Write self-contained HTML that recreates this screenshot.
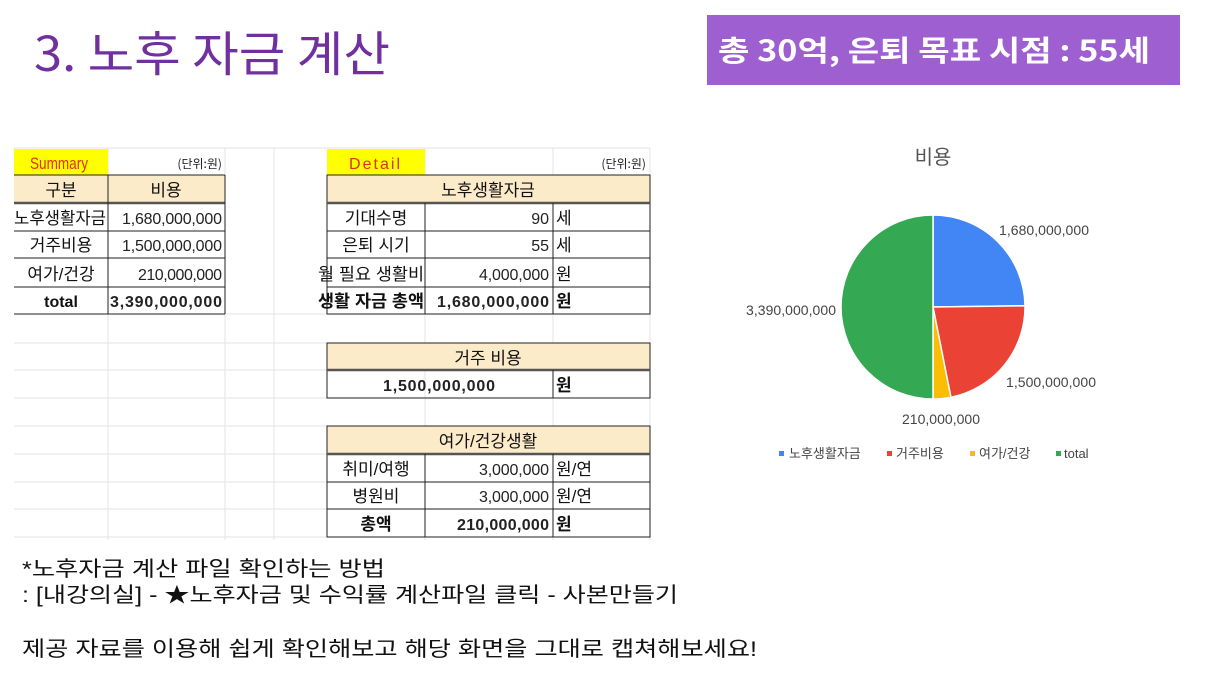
<!DOCTYPE html>
<html><head><meta charset="utf-8"><style>
html,body{margin:0;padding:0;background:#fff;}
svg{display:block;}
text{font-family:"Liberation Sans","Noto Sans CJK KR",sans-serif;}
.k{font-family:"Noto Sans CJK KR","Liberation Sans",sans-serif;}
</style></head><body>
<svg width="1216" height="684" viewBox="0 0 1216 684" xmlns="http://www.w3.org/2000/svg">
<rect width="1216" height="684" fill="#fff"/>
<text x="34" y="71" class="k" font-size="48" fill="#7030a0" textLength="356" lengthAdjust="spacingAndGlyphs">3. 노후 자금 계산</text>
<rect x="707" y="15" width="473" height="70" fill="#9e5fd0"/>
<text x="718" y="61" class="k" font-size="29" font-weight="bold" fill="#fff" textLength="432" lengthAdjust="spacingAndGlyphs">총 30억, 은퇴 목표 시점  : 55세</text>

<g stroke="#e3e3e3" stroke-width="1">
<line x1="14" y1="148" x2="650" y2="148"/>
<line x1="14" y1="314" x2="650" y2="314"/>
<line x1="14" y1="343" x2="650" y2="343"/>
<line x1="14" y1="370" x2="650" y2="370"/>
<line x1="14" y1="398" x2="650" y2="398"/>
<line x1="14" y1="426" x2="650" y2="426"/>
<line x1="14" y1="454" x2="650" y2="454"/>
<line x1="14" y1="482" x2="650" y2="482"/>
<line x1="14" y1="509" x2="650" y2="509"/>
<line x1="14" y1="537" x2="650" y2="537"/>
<line x1="108" y1="148" x2="108" y2="540"/>
<line x1="225" y1="148" x2="225" y2="540"/>
<line x1="274" y1="148" x2="274" y2="540"/>
<line x1="425" y1="148" x2="425" y2="540"/>
<line x1="553" y1="148" x2="553" y2="540"/>
<line x1="650" y1="148" x2="650" y2="540"/>
</g>
<rect x="14" y="149" width="94" height="26" fill="#ffff00"/>
<rect x="327" y="149" width="98" height="26" fill="#ffff00"/>
<text x="30" y="169" font-size="17" fill="#e03010" textLength="58" lengthAdjust="spacingAndGlyphs">Summary</text>
<text x="349" y="169" font-size="16" fill="#e03010" textLength="51" lengthAdjust="spacing">Detail</text>
<text x="222" y="168" class="k" font-size="12" text-anchor="end" fill="#222">(단위:원)</text>
<text x="646" y="168" class="k" font-size="12" text-anchor="end" fill="#222">(단위:원)</text>

<g fill="#fcebc9">
<rect x="14" y="175" width="211" height="28"/>
<rect x="327" y="175" width="323" height="28"/>
<rect x="327" y="343" width="323" height="27"/>
<rect x="327" y="426" width="323" height="28"/>
</g>
<g stroke="#222" stroke-width="1" fill="none">
<line x1="14" y1="175" x2="225" y2="175"/>
<line x1="14" y1="203" x2="225" y2="203" stroke="#555" stroke-width="2.5"/>
<line x1="14" y1="231" x2="225" y2="231"/>
<line x1="14" y1="258" x2="225" y2="258"/>
<line x1="14" y1="287" x2="225" y2="287"/>
<line x1="14" y1="314" x2="225" y2="314"/>
<line x1="108" y1="175" x2="108" y2="314"/>
<line x1="225" y1="175" x2="225" y2="314"/>
<rect x="327" y="175" width="323" height="139"/>
<line x1="327" y1="203" x2="650" y2="203" stroke="#555" stroke-width="2.5"/>
<line x1="327" y1="231" x2="650" y2="231"/>
<line x1="327" y1="258" x2="650" y2="258"/>
<line x1="327" y1="287" x2="650" y2="287"/>
<line x1="425" y1="203" x2="425" y2="314"/>
<line x1="553" y1="203" x2="553" y2="314"/>
<rect x="327" y="343" width="323" height="55"/>
<line x1="327" y1="370" x2="650" y2="370" stroke="#555" stroke-width="2.5"/>
<line x1="553" y1="370" x2="553" y2="398"/>
<rect x="327" y="426" width="323" height="111"/>
<line x1="327" y1="454" x2="650" y2="454" stroke="#555" stroke-width="2.5"/>
<line x1="327" y1="482" x2="650" y2="482"/>
<line x1="327" y1="509" x2="650" y2="509"/>
<line x1="425" y1="454" x2="425" y2="537"/>
<line x1="553" y1="454" x2="553" y2="537"/>
</g>

<g class="k" font-size="17" fill="#111">
<text x="61" y="196" text-anchor="middle">구분</text>
<text x="166" y="196" text-anchor="middle">비용</text>
<text x="14" y="224" textLength="92" lengthAdjust="spacingAndGlyphs">노후생활자금</text>
<text x="61" y="251" text-anchor="middle">거주비용</text>
<text x="61" y="280" text-anchor="middle">여가/건강</text>
<text x="61" y="307" text-anchor="middle" font-weight="bold" font-family="Liberation Mono,monospace" font-size="16">total</text>
<text x="488" y="196" text-anchor="middle">노후생활자금</text>
<text x="376" y="224" text-anchor="middle">기대수명</text>
<text x="376" y="251" text-anchor="middle">은퇴 시기</text>
<text x="318" y="280" textLength="106" lengthAdjust="spacingAndGlyphs">월 필요 생활비</text>
<text x="318" y="307" textLength="106" lengthAdjust="spacingAndGlyphs" font-weight="bold">생활 자금 총액</text>
<text x="488" y="364" text-anchor="middle">거주 비용</text>
<text x="488" y="447" text-anchor="middle">여가/건강생활</text>
<text x="376" y="475" text-anchor="middle">취미/여행</text>
<text x="376" y="502" text-anchor="middle">병원비</text>
<text x="376" y="530" text-anchor="middle" font-weight="bold">총액</text>
<text x="556" y="224">세</text>
<text x="556" y="251">세</text>
<text x="556" y="280">원</text>
<text x="556" y="307" font-weight="bold">원</text>
<text x="556" y="391" font-weight="bold">원</text>
<text x="556" y="475">원/연</text>
<text x="556" y="502">원/연</text>
<text x="556" y="530" font-weight="bold">원</text>
</g>
<g font-family="Liberation Mono,monospace" font-size="16" fill="#222" text-anchor="end">
<text x="222" y="224" textLength="100">1,680,000,000</text>
<text x="222" y="251" textLength="100">1,500,000,000</text>
<text x="222" y="280" textLength="84">210,000,000</text>
<text x="222" y="307" font-weight="bold" textLength="112">3,390,000,000</text>
<text x="549" y="224">90</text>
<text x="549" y="251">55</text>
<text x="549" y="280" textLength="70">4,000,000</text>
<text x="549" y="307" font-weight="bold" textLength="112">1,680,000,000</text>
<text x="495" y="391" font-weight="bold" textLength="112">1,500,000,000</text>
<text x="549" y="475" textLength="70">3,000,000</text>
<text x="549" y="502" textLength="70">3,000,000</text>
<text x="549" y="530" font-weight="bold" textLength="92">210,000,000</text>
</g>

<text x="933" y="164" class="k" font-size="20" fill="#555" text-anchor="middle">비용</text>
<g stroke="#fff" stroke-width="1.5">
<path d="M933,307 L933,215 A92,92 0 0 1 1025,305.7 Z" fill="#4285f4"/>
<path d="M933,307 L1025,305.7 A92,92 0 0 1 950.9,397.3 Z" fill="#ea4335"/>
<path d="M933,307 L950.9,397.3 A92,92 0 0 1 933,399 Z" fill="#fbbc04"/>
<path d="M933,307 L933,399 A92,92 0 0 1 933,215 Z" fill="#34a853"/>
</g>
<g font-size="14" fill="#444">
<text x="999" y="235" textLength="90">1,680,000,000</text>
<text x="746" y="315" textLength="90">3,390,000,000</text>
<text x="1006" y="387" textLength="90">1,500,000,000</text>
<text x="902" y="424" textLength="78">210,000,000</text>
</g>
<g font-size="13" fill="#444" class="k">
<rect x="779" y="451" width="5" height="5" fill="#4285f4"/><text x="789" y="458">노후생활자금</text>
<rect x="887" y="451" width="5" height="5" fill="#ea4335"/><text x="896" y="458">거주비용</text>
<rect x="970" y="451" width="5" height="5" fill="#fbbc04"/><text x="979" y="458">여가/건강</text>
<rect x="1056" y="451" width="5" height="5" fill="#34a853"/><text x="1064" y="458">total</text>
</g>

<g class="k" font-size="21" fill="#111">
<text x="22" y="576" textLength="363" lengthAdjust="spacingAndGlyphs">*노후자금 계산 파일 확인하는 방법</text>
<text x="22" y="602" textLength="656" lengthAdjust="spacingAndGlyphs">: [내강의실] - ★노후자금 및 수익률 계산파일 클릭 - 사본만들기</text>
<text x="22" y="656" textLength="735" lengthAdjust="spacingAndGlyphs">제공 자료를 이용해 쉽게 확인해보고 해당 화면을 그대로 캡쳐해보세요!</text>
</g>
</svg>
</body></html>
